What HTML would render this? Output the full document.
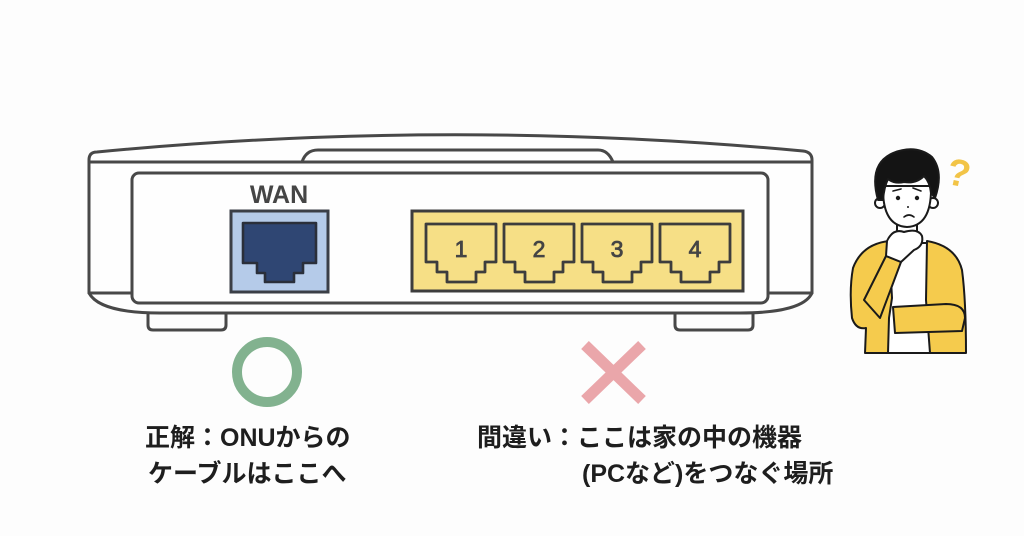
<!DOCTYPE html>
<html><head><meta charset="utf-8"><style>
html,body{margin:0;padding:0;background:#fdfdfd;}
svg{display:block;}
</style></head><body>
<svg width="1024" height="536" viewBox="0 0 1024 536" xmlns="http://www.w3.org/2000/svg">
<rect width="1024" height="536" fill="#fdfdfd"/>
<g fill="none" stroke="#484848" stroke-width="3" stroke-linejoin="round" stroke-linecap="round">
  <!-- outer body -->
  <path d="M89 293 L89 160 Q89 152 97 152 Q450 118 803 151 Q812 152 812 160 L812 293 C806 306 782 313 740 313 L160 313 C120 313 96 306 89 293 Z" fill="#fefefe"/>
  <!-- tab -->
  <path d="M302 162 Q306 150 318 150 L598 150 Q608 150 613 162"/>
  <line x1="89" y1="162" x2="812" y2="162"/>
  <line x1="89" y1="293" x2="132" y2="293"/>
  <line x1="768" y1="293" x2="812" y2="293"/>
  <!-- inner panel -->
  <rect x="132" y="173" width="636" height="130" rx="7" fill="#fefefe"/>
  <!-- feet -->
  <path d="M148 314 L148 325 Q148 330 153 330 L221 330 Q226 330 226 325 L226 314"/>
  <path d="M675 314 L675 325 Q675 330 680 330 L748 330 Q753 330 753 325 L753 314"/>
</g>
<!-- WAN -->
<text x="279" y="203" text-anchor="middle" font-family="Liberation Sans, sans-serif" font-weight="bold" font-size="25" fill="#454545">WAN</text>
<rect x="231" y="211" width="97" height="81" fill="#b5cbe9" stroke="#3b3f47" stroke-width="3"/>
<path d="M243 223 L316 223 L316 263 L303 263 L303 273 L294 273 L294 282 L265 282 L265 273 L257 273 L257 263 L243 263 Z" fill="#2f4673" stroke="#2a2f3a" stroke-width="2.6" stroke-linejoin="round"/>
<!-- LAN -->
<rect x="412" y="211" width="331" height="80" fill="#f6df86" stroke="#3d3d3d" stroke-width="3"/>
<g fill="none" stroke="#3d3d3d" stroke-width="2.8" stroke-linejoin="round">
  <path d="M426 224 L496 224 L496 262 L485 262 L485 272 L476 272 L476 282 L447 282 L447 272 L437 272 L437 262 L426 262 Z"/>
  <path d="M504 224 L574 224 L574 262 L563 262 L563 272 L554 272 L554 282 L525 282 L525 272 L515 272 L515 262 L504 262 Z"/>
  <path d="M582 224 L652 224 L652 262 L641 262 L641 272 L632 272 L632 282 L603 282 L603 272 L593 272 L593 262 L582 262 Z"/>
  <path d="M660 224 L730 224 L730 262 L719 262 L719 272 L710 272 L710 282 L681 282 L681 272 L671 272 L671 262 L660 262 Z"/>
</g>
<g font-family="Liberation Sans, sans-serif" font-size="23" fill="#444" stroke="#444" stroke-width="0.8" text-anchor="middle">
  <text x="461" y="257">1</text>
  <text x="539" y="257">2</text>
  <text x="617" y="257">3</text>
  <text x="695" y="257">4</text>
</g>
<!-- marks -->
<circle cx="267" cy="372" r="30" fill="none" stroke="#82b28f" stroke-width="10"/>
<g stroke="#eaa6aa" stroke-width="11">
  <line x1="585" y1="345" x2="642" y2="400"/>
  <line x1="642" y1="345" x2="585" y2="400"/>
</g>
<!-- labels -->
<g font-family="Liberation Sans, Noto Sans CJK JP, sans-serif" font-weight="bold" font-size="25" fill="#1e1e1e">
  <text x="145" y="446">正解：ONUからの</text>
  <text x="148" y="482">ケーブルはここへ</text>
  <text x="477" y="446">間違い：ここは家の中の機器</text>
  <text x="582" y="482">(PCなど)をつなぐ場所</text>
</g>
<!-- person -->
<g stroke="#1a1a1a" stroke-width="2" stroke-linejoin="round" stroke-linecap="round">
  <!-- shirt -->
  <path d="M888 243 L928 243 L932 353 L884 353 Z" fill="#ffffff"/>
  <!-- left jacket / arm -->
  <path d="M889 241 Q862 244 853 268 Q849 290 852 318 Q856 330 866 328 L865 353 L888 353 L889 318 L892 298 Z" fill="#f5cb4d"/>
  <!-- right jacket -->
  <path d="M927 241 Q956 246 962 270 Q966 300 966 353 L930 353 L926 300 Z" fill="#f5cb4d"/>
  <!-- crossing arm -->
  <path d="M893 307 L946 304 Q965 304 965 318 L962 331 L895 333 Z" fill="#f5cb4d"/>
  <!-- forearm to chin -->
  <path d="M864 300 L886 256 L901 262 L880 318 Z" fill="#f5cb4d"/>
  <!-- neck -->
  <path d="M897 224 L897 244 L917 244 L917 224 Z" fill="#ffffff"/>
  <!-- face -->
  <circle cx="880" cy="203" r="5" fill="#ffffff"/>
  <circle cx="933" cy="203" r="5" fill="#ffffff"/>
  <path d="M883 186 Q882 226 907 227 Q932 226 931 186 Z" fill="#ffffff"/>
  <!-- hair -->
  <path d="M878 200 Q868 164 893 153 Q916 144 932 157 Q944 172 935 198 L931 193 Q930 182 924 176 Q916 184 904 182 Q894 184 888 179 Q884 187 883 200 Z" fill="#141414"/>
  <!-- hand -->
  <path d="M887 241 Q893 228 904 232 Q918 228 922 236 Q924 246 914 250 L901 262 L886 256 Z" fill="#ffffff"/>
</g>
<g fill="#1a1a1a">
  <circle cx="898" cy="198" r="2.2"/>
  <circle cx="917" cy="198" r="2.2"/>
  <circle cx="908" cy="207" r="1"/>
</g>
<g stroke="#1a1a1a" stroke-width="1.6" fill="none" stroke-linecap="round">
  <path d="M893 191 L901 189"/>
  <path d="M913 188 L921 191"/>
  <path d="M904 217 Q909 213 914 217"/>
</g>
<text x="959" y="186" text-anchor="middle" font-family="Liberation Sans, sans-serif" font-weight="bold" font-size="38" fill="#f2c447" transform="rotate(12 959 172)">?</text>
</svg>
</body></html>
